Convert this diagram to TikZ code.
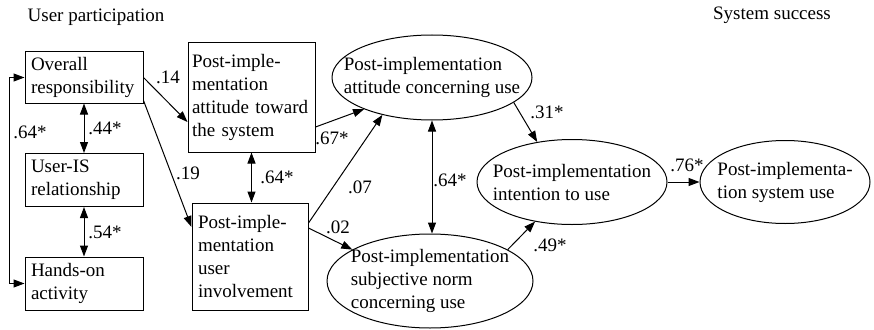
\documentclass[tikz,border=0pt]{standalone}
\usepackage{fontspec}
\setmainfont{Liberation Serif}
\usetikzlibrary{arrows.meta,shapes.geometric,calc}
\begin{document}
\begin{tikzpicture}[x=1pt,y=-1pt,
  every node/.style={font=\fontsize{19}{23}\selectfont},
  box/.style={draw,line width=1pt,rectangle,inner xsep=6pt,inner ysep=0pt,align=left,anchor=center},
  ell/.style={draw,line width=1pt,ellipse,inner sep=0pt},
  txt/.style={align=left,inner sep=0pt},
  lab/.style={inner sep=0pt},
  con/.style={line width=1pt,-{Triangle[length=11pt,width=8pt]}},
  dcon/.style={line width=1pt,{Triangle[length=11pt,width=8pt]}-{Triangle[length=11pt,width=8pt]}},
]
\useasboundingbox (0,0) rectangle (874,329);

% titles
\node (tup) at (96,17) {User participation};
\node (tss) at (772,15) {System success};

% boxes
\node[box,minimum width=118pt,minimum height=51pt,text width=106pt] (ov) at (84,77.5) {Overall\\responsibility};
\node[box,minimum width=118pt,minimum height=53pt,text width=106pt] (uis) at (84,180) {User-IS\\relationship};
\node[box,minimum width=118pt,minimum height=53pt,text width=106pt] (ho) at (84,283.5) {Hands-on\\activity};
\node[box,minimum width=127pt,minimum height=109pt,text width=119pt,inner xsep=4pt] (pa) at (251.5,97.5) {Post-imple-\\mentation\\attitude~toward\\the~system};
\node[box,minimum width=116pt,minimum height=107pt,text width=104pt] (pu) at (250,256.5) {Post-imple-\\mentation\\user\\involvement};

% ellipses
\node[ell,minimum width=200pt,minimum height=85pt] (e1) at (432,77.5) {};
\node[txt] (t1) at (e1.center) {Post-implementation\\attitude concerning use};
\node[ell,minimum width=206pt,minimum height=94pt] (e2) at (430,281) {};
\node[txt] (t2) at (e2.center) {Post-implementation\\subjective norm\\concerning use};
\node[ell,minimum width=190pt,minimum height=85pt] (e3) at (572,182) {};
\node[txt] (t3) at (e3.center) {Post-implementation\\intention to use};
\node[ell,minimum width=170pt,minimum height=83pt] (e4) at (785,182) {};
\node[txt] (t4) at (e4.center) {Post-implementa-\\tion system use};

% connectors
\draw[dcon] (ov.west) -- ++(-15,0) |- (ho.west);
\draw[dcon] (ov.south) -- (uis.north);
\draw[dcon] (uis.south) -- (ho.north);
\draw[con] (ov.east) -- ([yshift=-24.5pt]pa.west);
\draw[con] ([yshift=3pt]ov.south east) -- ([yshift=29.5pt]pu.west);
\draw[dcon] (pa.south) -- (pa.south |- pu.north);
\draw[con] ([yshift=-29.5pt]pa.east) -- (e1.205);
\draw[con] ([yshift=33.5pt]pu.east) -- (e1.217);
\draw[con] ([yshift=28.5pt]pu.east) -- (e2.158);
\draw[dcon] (e1.south) -- (e1.south |- e2.north);
\draw[con] (e1.-17) -- (e3.131);
\draw[con] (e2.22) -- (e3.227);
\draw[con] (e3.east) -- (e4.west);

% labels
\node[lab] (l64a) at (30,132) {.64*};
\node[lab] (l44) at (105,128) {.44*};
\node[lab] (l54) at (105,232) {.54*};
\node[lab] (l14) at (168,77) {.14};
\node[lab] (l19) at (188,173) {.19};
\node[lab] (l64b) at (277,177) {.64*};
\node[lab] (l67) at (332,138) {.67*};
\node[lab] (l07) at (360,187) {.07};
\node[lab] (l02) at (338,227) {.02};
\node[lab] (l64c) at (450,180) {.64*};
\node[lab] (l31) at (547,112) {.31*};
\node[lab] (l49) at (550,245) {.49*};
\node[lab] (l76) at (687,165) {.76*};
\end{tikzpicture}
\end{document}
